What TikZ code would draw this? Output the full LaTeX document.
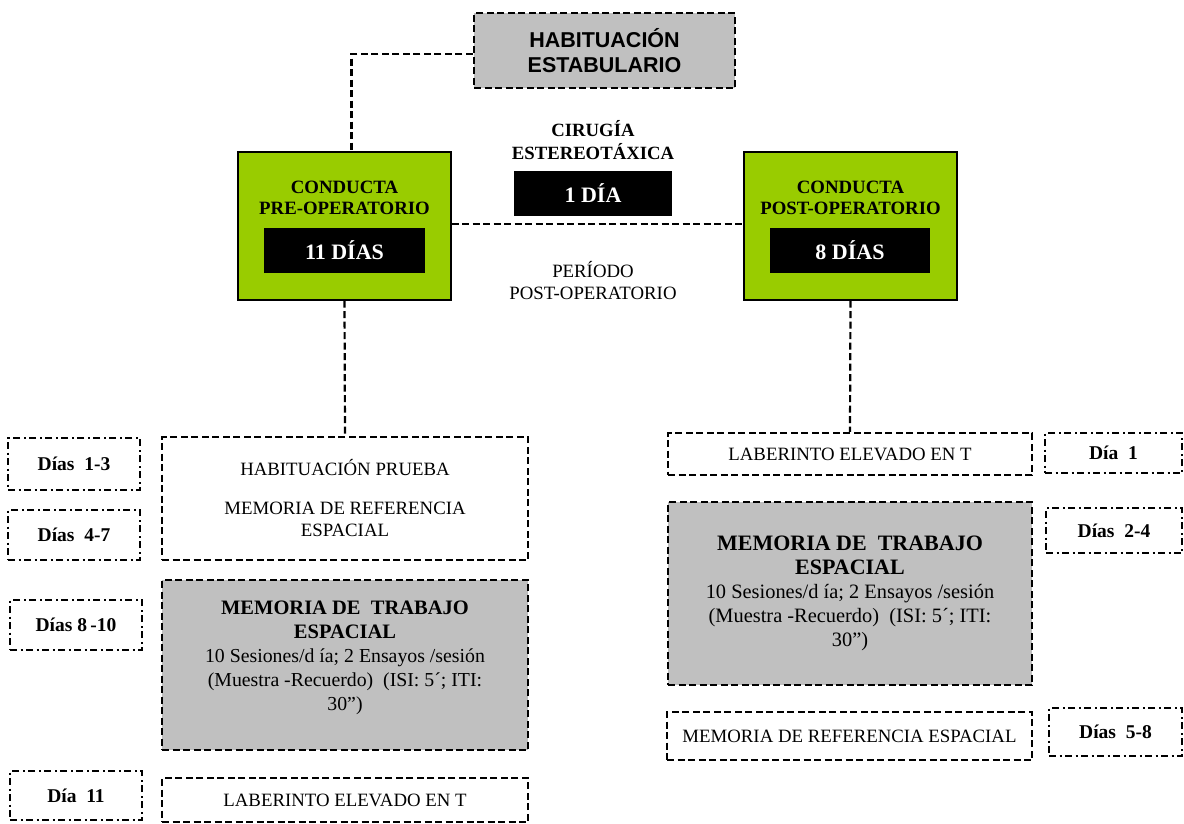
\documentclass[tikz,border=0pt]{standalone}
\usepackage{fontspec}
\setmainfont{Liberation Serif}
\newfontfamily\arialfont{Liberation Sans}
\definecolor{grn}{HTML}{99CC00}
\definecolor{gry}{HTML}{C0C0C0}
\newcommand\mtbig[1]{{\fontsize{20.5}{24}\selectfont\bfseries #1}}
\newcommand\mtbigr[1]{{\fontsize{22}{24}\selectfont\bfseries #1}}
\begin{document}
\begin{tikzpicture}[x=1pt,y=-1pt,
  dbox/.style={draw,line width=2.2pt,dash pattern=on 7pt off 3.5pt,inner sep=0pt,align=center,font=\fontsize{18.8}{22}\selectfont},
  daybox/.style={draw,line width=2.2pt,dash pattern=on 7pt off 3.5pt on 2pt off 3.5pt,inner sep=0pt,align=center,font=\fontsize{19.5}{22}\selectfont\bfseries},
  greenbox/.style={draw,fill=grn,line width=1.4pt,inner sep=0pt,minimum width=213pt,minimum height=148pt},
  blackbox/.style={fill=black,text=white,inner sep=0pt,font=\fontsize{22}{24}\selectfont\bfseries},
  conn/.style={line width=2.2pt,dash pattern=on 7pt off 3.5pt},
  lbl/.style={align=center,inner sep=0pt}
]
\useasboundingbox (0,0) rectangle (1184,823);
% top
\node[dbox,fill=gry,minimum width=261pt,minimum height=75pt,font=\arialfont\fontsize{21.5}{25}\selectfont\bfseries] (hab) at (604.5,50.5) {HABITUACIÓN\\ESTABULARIO};
% green boxes
\node[greenbox] (pre) at (344.5,226) {};
\node[lbl,font=\fontsize{18.8}{21}\selectfont\bfseries] (pret) at (344.5,198) {CONDUCTA\\PRE-OPERATORIO};
\node[blackbox,minimum width=161pt,minimum height=45pt] (pred) at (344.5,250.5) {11 DÍAS};
\node[greenbox] (post) at (850.5,226) {};
\node[lbl,font=\fontsize{18.8}{21}\selectfont\bfseries] (postt) at (850.5,198) {CONDUCTA\\POST-OPERATORIO};
\node[blackbox,minimum width=160pt,minimum height=45pt] (postd) at (850,250.5) {8 DÍAS};
% middle
\node[lbl,font=\fontsize{18.7}{23}\selectfont\bfseries] (cir) at (593,140) {CIRUGÍA\\ESTEREOTÁXICA};
\node[blackbox,minimum width=158pt,minimum height=45pt] (oned) at (593,193.5) {1 DÍA};
\node[lbl,font=\fontsize{18.8}{22}\selectfont] (per) at (593,281) {PERÍODO\\POST-OPERATORIO};
% left column
\node[daybox,minimum width=132pt,minimum height=52pt] (d13) at (74,464) {Días~~1-3};
\node[daybox,minimum width=132pt,minimum height=50pt] (d47) at (74,535) {Días~~4-7};
\node[daybox,minimum width=132pt,minimum height=50pt] (d810) at (76,625) {Días 8\,-10};
\node[daybox,minimum width=132pt,minimum height=49pt] (d11) at (76,795.5) {Día~~11};
\node[dbox,minimum width=366pt,minimum height=123pt] (hp) at (345,498.5) {HABITUACIÓN PRUEBA\\[17pt]MEMORIA DE REFERENCIA\\ESPACIAL};
\node[dbox,fill=gry,minimum width=366pt,minimum height=170pt] (mt) at (345,665) {};
\node[lbl,font=\fontsize{19.8}{24}\selectfont] (mtt) at (345,658) {\mtbig{MEMORIA DE~~TRABAJO}\\\mtbig{ESPACIAL}\\10 Sesiones/d ía; 2 Ensayos /sesión\\(Muestra -Recuerdo)~~(ISI: 5´; ITI:\\30”)};
\node[dbox,minimum width=366pt,minimum height=44pt] (lab1) at (345,800) {LABERINTO ELEVADO EN T};
% right column
\node[dbox,minimum width=364pt,minimum height=42pt] (lab2) at (850,454) {LABERINTO ELEVADO EN T};
\node[daybox,minimum width=137pt,minimum height=40pt] (d1) at (1113.5,453) {Día~~1};
\node[dbox,fill=gry,minimum width=364pt,minimum height=183pt] (mt2) at (850,593.5) {};
\node[lbl,font=\fontsize{20.4}{24}\selectfont] (mt2t) at (850,593) {\mtbigr{MEMORIA DE~~TRABAJO}\\\mtbigr{ESPACIAL}\\10 Sesiones/d ía; 2 Ensayos /sesión\\(Muestra -Recuerdo)~~(ISI: 5´; ITI:\\30”)};
\node[daybox,minimum width=136pt,minimum height=45pt] (d24) at (1114,530.5) {Días~~2-4};
\node[dbox,minimum width=365pt,minimum height=48pt] (mr) at (849.5,736) {MEMORIA DE REFERENCIA ESPACIAL};
\node[daybox,minimum width=133pt,minimum height=48pt] (d58) at (1115.5,732) {Días~~5-8};
% connectors
\draw[conn] ([yshift=-3.5pt]hab.west) -| ([xshift=7pt]pre.north);
\draw[conn] ([yshift=2pt]pre.east) -- ([yshift=2pt]post.west);
\draw[conn] (pre.south) -- (hp.north);
\draw[conn] (post.south) -- (lab2.north);
\end{tikzpicture}
\end{document}
